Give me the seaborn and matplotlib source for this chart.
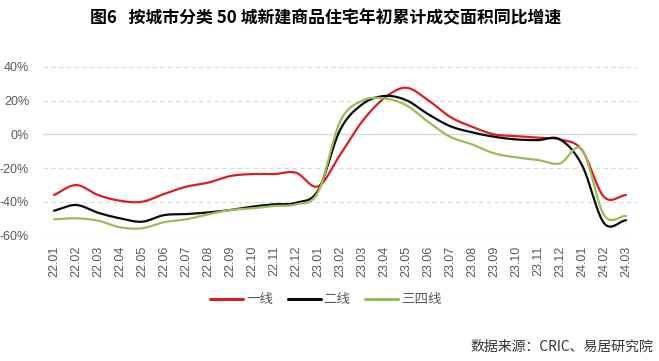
import numpy as np
import pandas as pd
import seaborn as sns
import matplotlib.pyplot as plt

# months on the x axis
months = ["22.01", "22.02", "22.03", "22.04", "22.05", "22.06", "22.07", "22.08", "22.09",
          "22.10", "22.11", "22.12", "23.01", "23.02", "23.03", "23.04", "23.05", "23.06",
          "23.07", "23.08", "23.09", "23.10", "23.11", "23.12", "24.01", "24.02", "24.03"]

# cumulative YoY growth (%)
tier1 = [-35.9, -30.0, -35.9, -39.3, -39.9, -35.3, -31.0, -28.6, -24.7, -23.5, -23.5, -22.7,
         -30.8, -12.2, 7.5, 21.3, 27.6, 20.3, 10.4, 4.5, 0.0, -1.0, -2.0, -3.0, -9.3, -37.0, -35.9]
tier2 = [-45.2, -41.8, -46.4, -49.7, -51.7, -47.8, -47.2, -46.2, -44.8, -42.8, -41.4, -40.5,
         -33.3, 2.5, 17.7, 22.7, 20.3, 12.0, 4.9, 1.2, -1.4, -3.0, -3.4, -3.0, -18.2, -52.5, -50.8]
tier34 = [-50.3, -49.7, -51.1, -55.0, -55.6, -52.0, -50.3, -47.3, -44.8, -43.8, -42.4, -41.4,
          -34.3, 7.5, 19.9, 21.3, 17.3, 7.5, -1.4, -5.9, -11.2, -13.6, -15.2, -17.2, -8.9, -47.7, -48.3]

series_names = ["一线", "二线", "三四线"]
colors = ["#DC1E24", "#0A0A0A", "#9BBB59"]


def smooth(y, steps=20):
    # Catmull-Rom spline through the points, like Excel's smoothed line
    y = np.asarray(y, dtype=float)
    p = np.concatenate([[2 * y[0] - y[1]], y, [2 * y[-1] - y[-2]]])
    xs, ys = [], []
    t = np.linspace(0, 1, steps, endpoint=False)
    for i in range(len(y) - 1):
        p0, p1, p2, p3 = p[i], p[i + 1], p[i + 2], p[i + 3]
        seg = 0.5 * ((2 * p1) + (-p0 + p2) * t + (2 * p0 - 5 * p1 + 4 * p2 - p3) * t ** 2
                     + (-p0 + 3 * p1 - 3 * p2 + p3) * t ** 3)
        xs.extend(i + t)
        ys.extend(seg)
    xs.append(len(y) - 1)
    ys.append(y[-1])
    return np.array(xs), np.array(ys)


frames = []
for name, vals in zip(series_names, [tier1, tier2, tier34]):
    sx, sy = smooth(vals)
    frames.append(pd.DataFrame({"x": sx, "y": sy, "city": name}))
df = pd.concat(frames, ignore_index=True)

sns.set_style("white")
plt.rcParams["font.family"] = ["Liberation Sans", "Noto Sans CJK SC", "DejaVu Sans"]

fig = plt.figure(figsize=(6.59, 3.61), dpi=100)
ax = fig.add_axes([0.0653, 0.347, 0.9013, 0.468])

# grid lines
for v in [-60, -40, -20, 20, 40]:
    ax.axhline(v, color="#D9D9D9", lw=0.8, ls=(0, (4, 3)), zorder=0)
ax.axhline(0, color="#D9D9D9", lw=1.0, zorder=0)

sns.lineplot(data=df, x="x", y="y", hue="city", palette=colors, hue_order=series_names,
             linewidth=1.6, ax=ax, sort=False, estimator=None)

ax.set_xlim(-0.5, len(months) - 0.5)
ax.set_ylim(-60, 40)
ax.set_yticks([-60, -40, -20, 0, 20, 40])
ax.set_yticklabels([f"{v}%" for v in [-60, -40, -20, 0, 20, 40]])
ax.set_xticks(range(len(months)))
ax.set_xticklabels(months, rotation=90)
ax.tick_params(axis="both", length=0, labelsize=9, labelcolor="#595959")
ax.tick_params(axis="y", pad=10)
ax.tick_params(axis="x", pad=7)
ax.set_xlabel("")
ax.set_ylabel("")
for s in ax.spines.values():
    s.set_visible(False)

handles, labels = ax.get_legend_handles_labels()
ax.legend(handles, labels, loc="center", bbox_to_anchor=(326 / 659, 1 - 300 / 361),
          bbox_transform=fig.transFigure, ncol=3, frameon=False, fontsize=9.7,
          handlelength=2.45, handletextpad=0.2, columnspacing=1.1, labelcolor="#595959")
for line in ax.get_legend().get_lines():
    line.set_linewidth(2.2)

fig.text(326 / 659, 1 - 18 / 361, "图6   按城市分类 50 城新建商品住宅年初累计成交面积同比增速",
         ha="center", va="center", fontsize=12.2, fontweight="bold",
         family=["Noto Sans CJK SC", "DejaVu Sans"], color="#000000")
fig.text(653 / 659, 1 - 347 / 361, "数据来源：CRIC、易居研究院", ha="right", va="center",
         fontsize=10, family=["Noto Sans CJK SC", "DejaVu Sans"], color="#333333")

fig.savefig("out.png", dpi=100)
